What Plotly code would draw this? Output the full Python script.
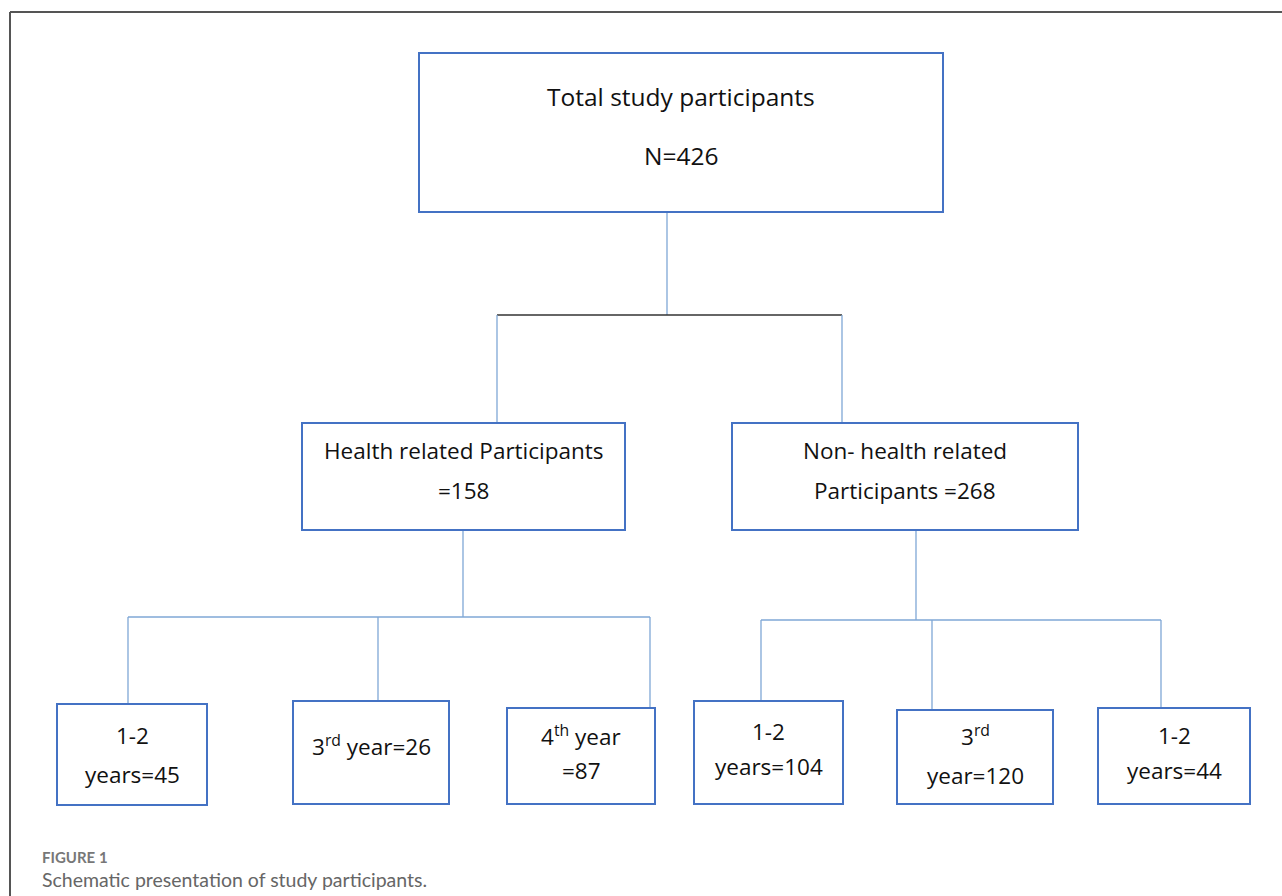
import plotly.graph_objects as go

# ---- data ----
total_label = "Total study participants"
total_n = 426
group_labels = ["Health related Participants", "Non- health related<br>Participants"]
group_counts = [158, 268]
year_labels = ["1-2<br>years", "3<sup>rd</sup> year", "4<sup>th</sup> year<br>", "1-2<br>years", "3<sup>rd</sup><br>year", "1-2<br>years"]
year_counts = [45, 26, 87, 104, 120, 44]
caption_head = "FIGURE 1"
caption_text = "Schematic presentation of study participants."

# ---- layout (pixel positions) ----
W, H = 1282, 896
BOX = "#4472C4"
LINK = "#7FA7D6"
total_box = (419, 53, 943, 212)
group_boxes = [(302, 423, 625, 530), (732, 423, 1078, 530)]
year_boxes = [(57, 704, 207, 805), (293, 701, 449, 804), (507, 708, 655, 804),
              (694, 701, 843, 804), (897, 710, 1053, 804), (1098, 708, 1250, 804)]
year_text_y = [[735, 774], [745], [735, 770], [731, 766], [735, 775], [735, 770]]

fig = go.Figure()
shapes = []
annos = []

def box(b):
    shapes.append(dict(type="rect", x0=b[0], y0=b[1], x1=b[2], y1=b[3],
                       line=dict(color=BOX, width=2), fillcolor="white", layer="above"))

def line(x0, y0, x1, y1, color=LINK, width=1.3):
    shapes.append(dict(type="line", x0=x0, y0=y0, x1=x1, y1=y1,
                       line=dict(color=color, width=width)))

def text(x, y, t, size=22.5, color="#111", family="Open Sans, sans-serif", anchor="center"):
    annos.append(dict(x=x, y=y, text=t, showarrow=False, xanchor=anchor, yanchor="middle",
                      font=dict(size=size, color=color, family=family)))

# outer frame
line(10, 12, W, 12, color="#555", width=2)
line(10, 12, 10, H, color="#555", width=2)

# connectors
line(667, 212, 667, 315)
line(497, 315, 842, 315, color="#333", width=1.5)
line(497, 315, 497, 423)
line(842, 315, 842, 423)
line(463, 530, 463, 617)
line(128, 617, 650, 617)
for x, yb in [(128, 704), (378, 701), (650, 708)]:
    line(x, 617, x, yb)
line(916, 530, 916, 620)
line(761, 620, 1161, 620)
for x, yb in [(761, 701), (932, 710), (1161, 708)]:
    line(x, 620, x, yb)

# boxes
box(total_box)
for b in group_boxes:
    box(b)
for b in year_boxes:
    box(b)

# texts
cx = (total_box[0] + total_box[2]) / 2
text(cx, 96, total_label, size=24.5)
text(cx, 155, f"N={total_n}", size=24.5)

text((group_boxes[0][0] + group_boxes[0][2]) / 2, 450, group_labels[0])
text((group_boxes[0][0] + group_boxes[0][2]) / 2, 490, f"={group_counts[0]}")
gl = group_labels[1].split("<br>")
text((group_boxes[1][0] + group_boxes[1][2]) / 2, 450, gl[0])
text((group_boxes[1][0] + group_boxes[1][2]) / 2, 490, f"{gl[1]} ={group_counts[1]}")

for b, lab, n, ys in zip(year_boxes, year_labels, year_counts, year_text_y):
    cxb = (b[0] + b[2]) / 2
    parts = lab.split("<br>")
    if len(ys) == 1:
        text(cxb, ys[0], f"{parts[0]}={n}")
    else:
        text(cxb, ys[0], parts[0])
        text(cxb, ys[1], f"{parts[1]}={n}")

# caption
text(40, 857, f"<b>{caption_head}</b>", size=15, color="#777", family="Lato, sans-serif", anchor="left")
text(40, 879, caption_text, size=19.5, color="#666", family="Lato, sans-serif", anchor="left")

fig.update_layout(
    width=W, height=H, margin=dict(l=0, r=0, t=0, b=0),
    paper_bgcolor="white", plot_bgcolor="white",
    xaxis=dict(range=[0, W], visible=False, fixedrange=True),
    yaxis=dict(range=[H, 0], visible=False, fixedrange=True),
    shapes=shapes, annotations=annos, showlegend=False,
)
fig.write_html("out.html", config={"displayModeBar": False},
               post_script="document.body.style.margin='0';document.body.style.overflow='hidden';")
